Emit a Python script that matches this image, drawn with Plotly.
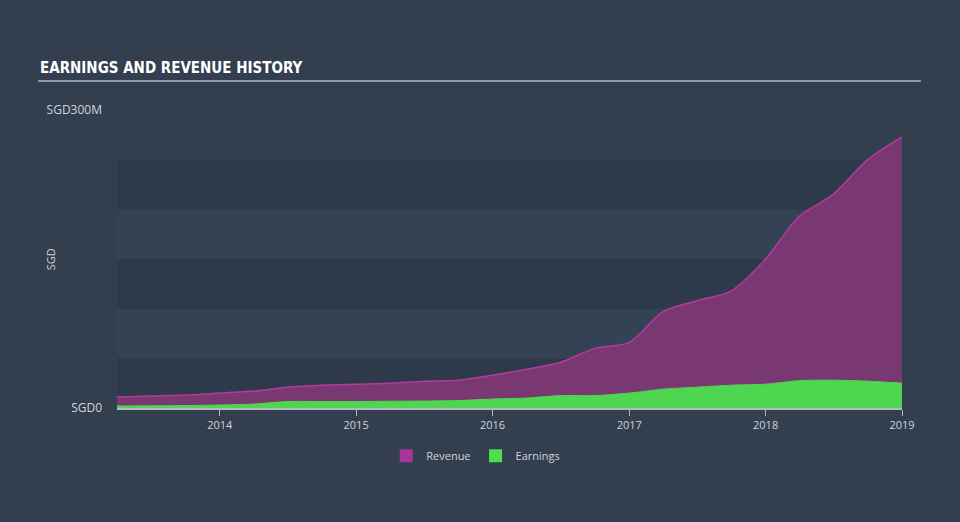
import plotly.graph_objects as go

dates = ["2013-04-01", "2013-10-01", "2014-01-01", "2014-04-01", "2014-07-01", "2014-10-01",
         "2015-01-01", "2015-04-01", "2015-07-01", "2015-10-01", "2016-01-01", "2016-04-01",
         "2016-07-01", "2016-10-01", "2017-01-01", "2017-04-01", "2017-07-01", "2017-10-01",
         "2018-01-01", "2018-04-01", "2018-07-01", "2018-10-01", "2019-01-01"]
revenue = [11, 13, 15, 17, 21, 23, 24, 25, 27, 28, 33, 39, 46, 60, 66, 97, 108, 118,
           150, 193, 215, 250, 273]
earnings = [2, 2.5, 3, 4, 6.5, 6.5, 6.5, 6.8, 7, 7.5, 9, 10, 12.5, 12.5, 15, 19, 21, 23,
            24, 27.5, 28, 27, 25]
year_ticks = ["2014-01-01", "2015-01-01", "2016-01-01", "2017-01-01", "2018-01-01", "2019-01-01"]
year_labels = ["2014", "2015", "2016", "2017", "2018", "2019"]
y_ticks = [0, 300]
y_labels = ["SGD0", "SGD300M"]

BG = "#333f4f"
fig = go.Figure()

fig.add_trace(go.Scatter(x=dates, y=revenue, mode="lines", fill="tozeroy",
                         line=dict(color="#b23aa0", width=1.5, shape="spline", smoothing=0.8),
                         fillcolor="#7a3873", showlegend=False, hoverinfo="skip"))
fig.add_trace(go.Scatter(x=dates, y=earnings, mode="lines", fill="tozeroy",
                         line=dict(color="#4fd650", width=1, shape="spline", smoothing=0.8),
                         fillcolor="#4fd650", showlegend=False, hoverinfo="skip"))
# legend entries
fig.add_trace(go.Scatter(x=[None], y=[None], mode="markers", name="Revenue",
                         marker=dict(symbol="square", size=13, color="#a8359a")))
fig.add_trace(go.Scatter(x=[None], y=[None], mode="markers", name="Earnings",
                         marker=dict(symbol="square", size=13, color="#4ee04b")))

shapes = []
for lo, hi, col in [(0, 50, "#2e3a4a"), (50, 100, "#344354"), (100, 150, "#2e3a4a"),
                    (150, 200, "#344354"), (200, 250, "#2e3a4a"), (250, 300, BG)]:
    shapes.append(dict(type="rect", xref="paper", yref="y", x0=0, x1=1, y0=lo, y1=hi,
                       fillcolor=col, line=dict(width=0), layer="below"))
shapes.append(dict(type="line", xref="paper", yref="paper", x0=-0.1006, x1=1.024,
                   y0=1.097, y1=1.097, line=dict(color="#b4bac2", width=1.5)))

fig.update_layout(
    width=960, height=522,
    paper_bgcolor=BG, plot_bgcolor=BG,
    margin=dict(l=117, r=58, t=110, b=114),
    font=dict(family="Open Sans, sans-serif", color="#d0d4d9"),
    shapes=shapes,
    xaxis=dict(type="date", range=["2013-04-01", "2019-01-01"], tickvals=year_ticks,
               ticktext=year_labels, showgrid=False, zeroline=False,
               showline=True, linecolor="#b4bac2", linewidth=1.5,
               ticks="outside", ticklen=6, tickcolor="#b4bac2",
               tickfont=dict(size=11, color="#d0d4d9")),
    yaxis=dict(range=[0, 300], tickvals=y_ticks, ticktext=y_labels, showgrid=False,
               zeroline=False, showline=False, ticks="", ticklabelstandoff=14,
               tickfont=dict(size=12, color="#d0d4d9")),
    legend=dict(orientation="h", x=0.457, xanchor="center", y=-0.16, yanchor="middle",
                font=dict(size=11, color="#d0d4d9"), bgcolor="rgba(0,0,0,0)",
                itemwidth=30, tracegroupgap=0),
    annotations=[
        dict(text="<b>EARNINGS AND REVENUE HISTORY</b>", xref="paper", yref="paper",
             x=-0.1006, y=1.141, xanchor="left", yanchor="middle", showarrow=False,
             font=dict(family="Liberation Sans Narrow, DejaVu Sans Condensed", size=15,
                       color="#ffffff")),
        dict(text="SGD", xref="paper", yref="paper", x=-0.085, y=0.5, textangle=-90,
             xanchor="center", yanchor="middle", showarrow=False,
             font=dict(size=11, color="#d0d4d9")),
    ],
)

fig.write_html("out.html")
